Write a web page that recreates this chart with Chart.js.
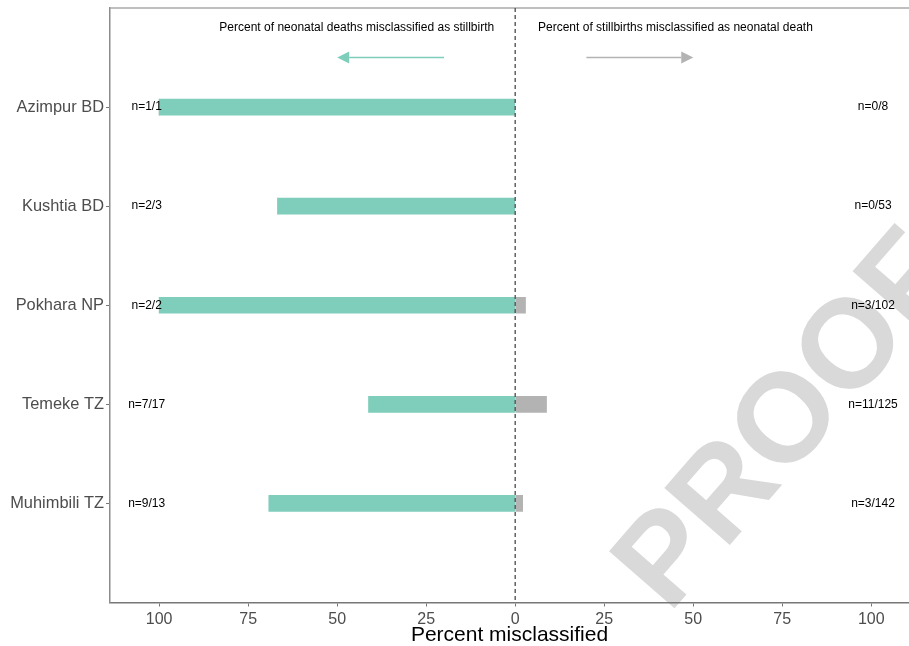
<!DOCTYPE html>
<html>
<head>
<meta charset="utf-8">
<script src="https://cdn.jsdelivr.net/npm/chart.js@4.4.1/dist/chart.umd.min.js"></script>
<style>
  html, body { margin: 0; padding: 0; background: #fff; }
  #wrap { width: 909px; height: 646px; position: relative; }
</style>
</head>
<body>
<div id="wrap"><canvas id="chart"></canvas></div>
<script>
// data
var sites = ['Azimpur BD', 'Kushtia BD', 'Pokhara NP', 'Temeke TZ', 'Muhimbili TZ'];
var neonatalAsStillbirth = [100, 66.7, 100, 41.2, 69.2];   // % (drawn to the left)
var stillbirthAsNeonatal = [0, 0, 2.9, 8.8, 2.1];          // % (drawn to the right)
var neonatalCounts = ['n=1/1', 'n=2/3', 'n=2/2', 'n=7/17', 'n=9/13'];
var stillbirthCounts = ['n=0/8', 'n=0/53', 'n=3/102', 'n=11/125', 'n=3/142'];
var tickValues = [-100, -75, -50, -25, 0, 25, 50, 75, 100];

var FONT = '"Liberation Sans", Arial, sans-serif';
var GREEN = '#7fcdbb';
var GREY = '#b3b3b3';

// empty slots above and below so the rows sit like the ggplot panel
var rowLabels = [''].concat(sites, ['']);
var leftData = [null].concat(neonatalAsStillbirth.map(function(v) { return -v; }), [null]);
var rightData = [null].concat(stillbirthAsNeonatal, [null]);

function arrow(ctx, x0, x1, y, color) {
  var dir = x1 > x0 ? 1 : -1;
  var head = 12;
  ctx.save();
  ctx.strokeStyle = color;
  ctx.fillStyle = color;
  ctx.lineWidth = 1.5;
  ctx.beginPath();
  ctx.moveTo(x0, y);
  ctx.lineTo(x1 - dir * head, y);
  ctx.stroke();
  ctx.beginPath();
  ctx.moveTo(x1, y);
  ctx.lineTo(x1 - dir * head, y - 6);
  ctx.lineTo(x1 - dir * head, y + 6);
  ctx.closePath();
  ctx.fill();
  ctx.restore();
}

var extras = {
  id: 'extras',
  beforeDraw: function(chart) {
    // "PROOF" watermark
    var ctx = chart.ctx;
    ctx.save();
    ctx.translate(782, 416);
    ctx.rotate(-49 * Math.PI / 180);
    ctx.fillStyle = '#d9d9d9';
    ctx.font = 'bold 126px ' + FONT;
    ctx.textAlign = 'center';
    ctx.textBaseline = 'alphabetic';
    ctx.fillText('PROOF', 0, 45);
    ctx.restore();
  },
  afterDatasetsDraw: function(chart) {
    var ctx = chart.ctx, xs = chart.scales.x, ys = chart.scales.y, a = chart.chartArea;
    ctx.save();
    // top panel border
    ctx.strokeStyle = '#aaaaaa';
    ctx.lineWidth = 1.5;
    ctx.beginPath();
    ctx.moveTo(a.left, a.top);
    ctx.lineTo(a.right, a.top);
    ctx.stroke();
    // dashed zero line
    var x0 = xs.getPixelForValue(0);
    ctx.strokeStyle = '#555555';
    ctx.lineWidth = 1.4;
    ctx.setLineDash([4, 3]);
    ctx.beginPath();
    ctx.moveTo(x0, a.top);
    ctx.lineTo(x0, a.bottom);
    ctx.stroke();
    ctx.setLineDash([]);

    // direction notes
    ctx.fillStyle = '#000';
    ctx.font = '12px ' + FONT;
    ctx.textAlign = 'center';
    ctx.textBaseline = 'middle';
    var yText = ys.getPixelForValue(0.2);
    ctx.fillText('Percent of neonatal deaths misclassified as stillbirth', xs.getPixelForValue(-44.5), yText);
    ctx.fillText('Percent of stillbirths misclassified as neonatal death', xs.getPixelForValue(45), yText);
    var yArrow = ys.getPixelForValue(0.5);
    arrow(ctx, xs.getPixelForValue(-20), xs.getPixelForValue(-50), yArrow, GREEN);
    arrow(ctx, xs.getPixelForValue(20), xs.getPixelForValue(50), yArrow, GREY);

    // counts next to each row
    ctx.font = '12px ' + FONT;
    sites.forEach(function(s, i) {
      var y = ys.getPixelForValue(i + 1);
      ctx.fillText(neonatalCounts[i], xs.getPixelForValue(-103.5), y);
      ctx.fillText(stillbirthCounts[i], xs.getPixelForValue(100.5), y);
    });
    ctx.restore();
  }
};

new Chart(document.getElementById('chart'), {
  type: 'bar',
  data: {
    labels: rowLabels,
    datasets: [{
      label: 'Neonatal deaths misclassified as stillbirth',
      data: leftData,
      backgroundColor: GREEN,
      barThickness: 16
    }, {
      label: 'Stillbirths misclassified as neonatal death',
      data: rightData,
      backgroundColor: GREY,
      barThickness: 16
    }]
  },
  options: {
    indexAxis: 'y',
    responsive: true,
    maintainAspectRatio: false,
    animation: false,
    layout: { padding: { top: 8, right: 0, left: 0, bottom: 0 } },
    plugins: {
      legend: { display: false },
      tooltip: { enabled: false }
    },
    scales: {
      x: {
        stacked: true,
        min: -113.8,
        max: 110.6,
        afterBuildTicks: function(scale) {
          scale.ticks = tickValues.map(function(v) { return { value: v }; });
        },
        afterFit: function(scale) {
          scale.height = 43.5;
          scale.paddingLeft = 0;
          scale.paddingRight = 0;
        },
        ticks: {
          color: '#4d4d4d',
          font: { family: FONT, size: 16 },
          padding: 3,
          maxRotation: 0,
          autoSkip: false,
          callback: function(v) { return Math.abs(v); }
        },
        grid: { drawOnChartArea: false, tickLength: 4, color: '#777777', tickColor: '#777777' },
        border: { display: true, color: '#777777', width: 1.5 },
        title: {
          display: true,
          text: 'Percent misclassified',
          color: '#000',
          font: { family: FONT, size: 21, lineHeight: 1 },
          padding: { top: 0, bottom: 0 }
        }
      },
      y: {
        stacked: true,
        offset: false,
        afterFit: function(scale) {
          scale.width = 110;
          scale.paddingTop = 0;
          scale.paddingBottom = 0;
        },
        ticks: {
          color: '#4d4d4d',
          font: { family: FONT, size: 16.4 },
          padding: 2,
          autoSkip: false
        },
        grid: {
          offset: false,
          drawOnChartArea: false,
          tickLength: 4,
          tickColor: function(c) { return rowLabels[c.index] ? '#777777' : 'rgba(0,0,0,0)'; }
        },
        border: { display: true, color: '#8c8c8c', width: 1.5 }
      }
    }
  },
  plugins: [extras]
});
</script>
</body>
</html>
